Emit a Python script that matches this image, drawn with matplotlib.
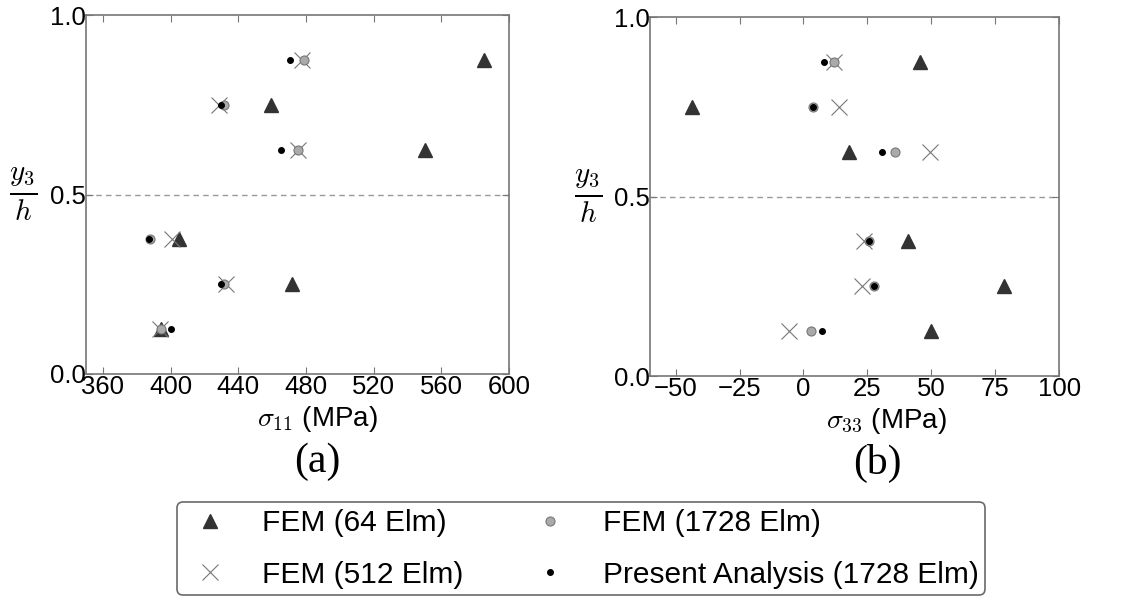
import matplotlib
matplotlib.use("Agg")
from matplotlib import pyplot as plt

plt.rcParams['font.family'] = ['Liberation Sans', 'DejaVu Sans']
plt.rcParams['mathtext.fontset'] = 'cm'

# through-thickness positions of the sampling points
y_levels = [0.875, 0.75, 0.625, 0.375, 0.25, 0.125]

# sigma_11 (MPa)
s11_fem64 = [585.5, 459.5, 550.5, 405.0, 472.0, 394.5]
s11_fem512 = [477.5, 428.5, 475.0, 401.0, 432.5, 393.5]
s11_fem1728 = [479.0, 431.5, 475.0, 387.8, 431.5, 394.5]
s11_present = [470.5, 430.0, 465.0, 387.0, 430.0, 400.0]

# sigma_33 (MPa)
s33_fem64 = [45.5, -43.5, 18.0, 41.0, 78.5, 50.0]
s33_fem512 = [12.0, 13.8, 49.6, 23.8, 23.0, -5.6]
s33_fem1728 = [12.0, 3.9, 35.8, 25.5, 27.5, 3.0]
s33_present = [8.2, 3.7, 30.9, 25.5, 27.5, 7.3]

series_names = ["FEM (64 Elm)", "FEM (512 Elm)", "FEM (1728 Elm)",
                "Present Analysis (1728 Elm)"]

styles = [
    dict(marker='^', color='#333333', ms=10, mec='#333333'),
    dict(marker='x', color='#777777', ms=11, mew=0.8),
    dict(marker='o', color='#aaaaaa', ms=6.5, mec='#777777', mew=0.8),
    dict(marker='o', color='black', ms=4, mec='black'),
]

fig = plt.figure(figsize=(11.41, 5.96), dpi=100)
ax_a = fig.add_axes([0.0754, 0.3725, 0.3707, 0.6023])
ax_b = fig.add_axes([0.5697, 0.3691, 0.3585, 0.6023])


def draw_panel(ax, data, xlim, xticks, xlabel, label_x, ylab_x, tag, tag_x):
    handles = []
    for vals, st, name in zip(data, styles, series_names):
        h, = ax.plot(vals, y_levels, linestyle='none', label=name, **st)
        handles.append(h)
    ax.axhline(0.5, color='#999999', lw=1, linestyle='--', dashes=(4, 3), zorder=0)
    ax.set_xlim(*xlim)
    ax.set_ylim(0, 1)
    ax.set_xticks(xticks)
    ax.set_yticks([0.0, 0.5, 1.0])
    ax.tick_params(direction='in', top=True, right=True, labelsize=18.5,
                   color='#777777', length=5)
    ax.tick_params(axis='x', pad=1)
    ax.tick_params(axis='y', pad=0)
    for sp in ax.spines.values():
        sp.set_color('#777777')
        sp.set_linewidth(1.2)
    ax.set_xlabel(xlabel, fontsize=20, va='center')
    ax.xaxis.set_label_coords(label_x, -0.125)
    ax.set_ylabel(r'$\frac{y_3}{h}$', fontsize=30, rotation=0, va='center')
    ax.yaxis.set_label_coords(ylab_x, 0.5)
    ax.text(tag_x, -0.245, tag, transform=ax.transAxes, ha='center', va='center',
            fontsize=30, family='Liberation Serif')
    return handles


handles = draw_panel(ax_a, [s11_fem64, s11_fem512, s11_fem1728, s11_present],
                     (350, 600), [360, 400, 440, 480, 520, 560, 600],
                     r'$\sigma_{11}$ (MPa)', 0.546, -0.149, '(a)', 0.546)
draw_panel(ax_b, [s33_fem64, s33_fem512, s33_fem1728, s33_present],
           (-60, 100), [-50, -25, 0, 25, 50, 75, 100],
           r'$\sigma_{33}$ (MPa)', 0.577, -0.152, '(b)', 0.556)

leg = fig.legend(handles, series_names, loc='center', bbox_to_anchor=(0.509, 0.079),
                 ncol=2, numpoints=1, fontsize=21.5, frameon=True, fancybox=True,
                 edgecolor='#444444', handletextpad=0.85, columnspacing=2.0,
                 labelspacing=0.8, borderpad=0.22, handlelength=1.8)
leg.get_frame().set_linewidth(1.2)

fig.savefig('out.png', dpi=100)
